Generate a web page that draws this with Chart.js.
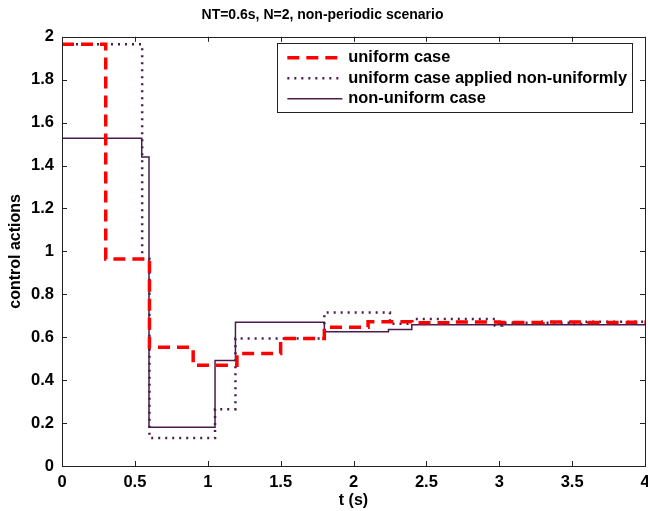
<!DOCTYPE html>
<html>
<head>
<meta charset="utf-8">
<script src="https://cdn.jsdelivr.net/npm/chart.js@4/dist/chart.umd.min.js"></script>
<style>
  html, body { margin: 0; padding: 0; background: #fff; }
  canvas { display: block; }
</style>
</head>
<body>
<canvas id="controlChart" width="648" height="511"></canvas>
<script>
// step start times (s) and held control values
const uniformT = [0, 0.3, 0.6, 0.9, 1.2, 1.5, 1.8, 2.1, 2.4, 2.7, 3.0, 3.3, 3.6, 3.9, 4.0];
const uniformU = [1.965, 0.965, 0.553, 0.469, 0.524, 0.594, 0.646, 0.672, 0.668, 0.671, 0.669, 0.671, 0.669, 0.670, 0.670];

const appliedT = [0, 0.55, 0.6, 1.05, 1.19, 1.8, 2.25, 2.4, 2.97, 3.02, 3.5, 3.6, 4.0];
const appliedU = [1.965, 0.965, 0.13, 0.265, 0.594, 0.715, 0.663, 0.685, 0.655, 0.668, 0.662, 0.672, 0.672];

const nonUniformT = [0, 0.547, 0.597, 1.05, 1.19, 1.8, 2.24, 2.4, 4.0];
const nonUniformU = [1.527, 1.44, 0.18, 0.492, 0.67, 0.626, 0.636, 0.658, 0.658];

const xTickLabels = ['0', '0.5', '1', '1.5', '2', '2.5', '3', '3.5', '4'];
const yTickLabels = ['0', '0.2', '0.4', '0.6', '0.8', '1', '1.2', '1.4', '1.6', '1.8', '2'];

const FONT = 'Liberation Sans, Arial, sans-serif';
const PURPLE = '#4a1c4c';

function toPoints(ts, us) {
    return ts.map(function (t, i) { return { x: t, y: us[i] }; });
}

// MATLAB style box with inward ticks on all four sides
const boxTicks = {
    id: 'boxTicks',
    afterDraw: function (chart) {
        const ctx = chart.ctx;
        const a = chart.chartArea;
        const xs = chart.scales.x;
        const ys = chart.scales.y;
        const len = 5;
        ctx.save();
        ctx.strokeStyle = '#222';
        ctx.lineWidth = 1;
        ctx.beginPath();
        xs.ticks.forEach(function (t) {
            const px = Math.round(xs.getPixelForValue(t.value)) + 0.5;
            ctx.moveTo(px, a.bottom); ctx.lineTo(px, a.bottom - len);
            ctx.moveTo(px, a.top); ctx.lineTo(px, a.top + len);
        });
        ys.ticks.forEach(function (t) {
            const py = Math.round(ys.getPixelForValue(t.value)) + 0.5;
            ctx.moveTo(a.left, py); ctx.lineTo(a.left + len, py);
            ctx.moveTo(a.right, py); ctx.lineTo(a.right - len, py);
        });
        ctx.stroke();
        ctx.strokeRect(Math.round(a.left) + 0.5, Math.round(a.top) + 0.5,
            Math.round(a.right - a.left), Math.round(a.bottom - a.top));
        ctx.restore();
    }
};

// boxed legend in the upper right corner of the plot
const boxLegend = {
    id: 'boxLegend',
    afterDatasetsDraw: function (chart) {
        const ctx = chart.ctx;
        const a = chart.chartArea;
        const sets = chart.data.datasets;
        ctx.save();
        ctx.font = 'bold 16.4px ' + FONT;
        let textW = 0;
        sets.forEach(function (d) { textW = Math.max(textW, ctx.measureText(d.label).width); });
        const lineLen = 55, padL = 10, gap = 6, padR = 5, rowH = 20.5;
        const w = padL + lineLen + gap + textW + padR;
        const h = 69;
        const right = a.right - 13;
        const left = right - w;
        const top = a.top + 6;
        ctx.fillStyle = '#fff';
        ctx.fillRect(left, top, w, h);
        ctx.strokeStyle = '#222';
        ctx.lineWidth = 1;
        ctx.strokeRect(Math.round(left) + 0.5, Math.round(top) + 0.5, Math.round(w), h);
        sets.forEach(function (d, i) {
            const y = top + 15 + i * rowH;
            ctx.beginPath();
            ctx.strokeStyle = d.borderColor;
            ctx.lineWidth = d.borderWidth;
            ctx.setLineDash(d.borderDash || []);
            ctx.moveTo(left + padL, y);
            ctx.lineTo(left + padL + lineLen, y);
            ctx.stroke();
            ctx.setLineDash([]);
            ctx.fillStyle = '#000';
            ctx.textBaseline = 'middle';
            ctx.fillText(d.label, left + padL + lineLen + gap, y);
        });
        ctx.restore();
    }
};

new Chart(document.getElementById('controlChart').getContext('2d'), {
    type: 'line',
    data: {
        datasets: [{
            label: 'uniform case',
            data: toPoints(uniformT, uniformU),
            borderColor: '#ff0000',
            borderWidth: 3.5,
            borderDash: [12, 7],
            stepped: true
        }, {
            label: 'uniform case applied non-uniformly',
            data: toPoints(appliedT, appliedU),
            borderColor: PURPLE,
            borderWidth: 2.5,
            borderDash: [2, 5],
            stepped: true
        }, {
            label: 'non-uniform case',
            data: toPoints(nonUniformT, nonUniformU),
            borderColor: PURPLE,
            borderWidth: 1.5,
            stepped: true
        }]
    },
    options: {
        responsive: false,
        animation: false,
        devicePixelRatio: 1,
        layout: { padding: { left: 0, right: 3, top: 0, bottom: 0 } },
        elements: { point: { radius: 0 }, line: { tension: 0, fill: false } },
        plugins: {
            legend: { display: false },
            tooltip: { enabled: false },
            title: {
                display: true,
                text: 'NT=0.6s, N=2, non-periodic scenario',
                color: '#000',
                font: { family: FONT, size: 14, weight: 'bold' },
                padding: { top: 7, bottom: 13 }
            }
        },
        scales: {
            x: {
                type: 'linear',
                min: 0,
                max: 4,
                grid: { display: false, drawTicks: false },
                border: { display: false },
                afterFit: function (scale) {
                    scale.height = 45;
                    scale.paddingLeft = 0;
                    scale.paddingRight = 0;
                },
                ticks: {
                    stepSize: 0.5,
                    padding: 7,
                    color: '#000',
                    maxRotation: 0,
                    font: { family: FONT, size: 16.5, weight: 'bold' },
                    callback: function (v, i) { return xTickLabels[i]; }
                },
                title: {
                    display: true,
                    text: 't (s)',
                    color: '#000',
                    font: { family: FONT, size: 16, weight: 'bold' },
                    padding: { top: 0, bottom: 1 }
                }
            },
            y: {
                min: 0,
                max: 2,
                grid: { display: false, drawTicks: false },
                border: { display: false },
                afterFit: function (scale) { scale.width = 62; },
                ticks: {
                    stepSize: 0.2,
                    padding: 8,
                    color: '#000',
                    font: { family: FONT, size: 16.5, weight: 'bold' },
                    callback: function (v, i) { return yTickLabels[i]; }
                },
                title: {
                    display: true,
                    text: 'control actions',
                    color: '#000',
                    font: { family: FONT, size: 16, weight: 'bold' },
                    padding: { top: 6, bottom: 0 }
                }
            }
        }
    },
    plugins: [boxTicks, boxLegend]
});
</script>
</body>
</html>
